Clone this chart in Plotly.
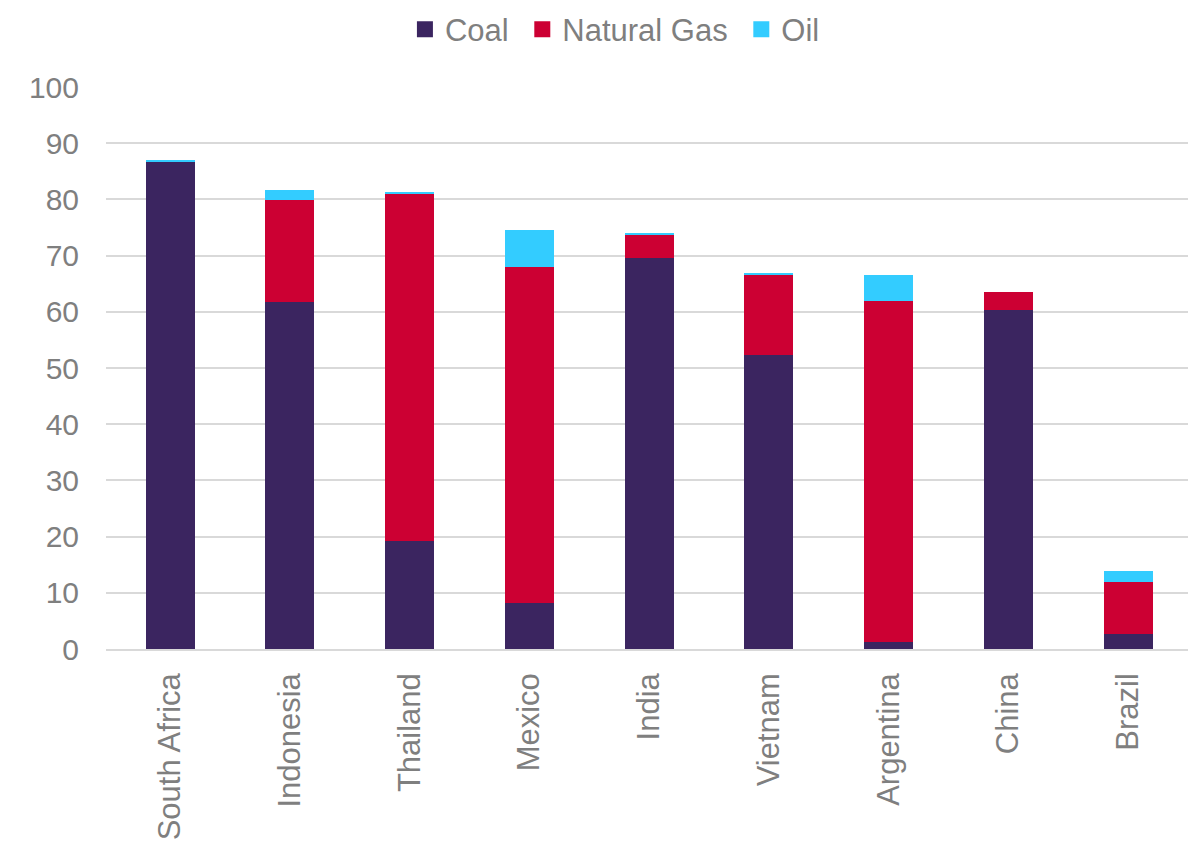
import plotly.graph_objects as go

countries = ["South Africa", "Indonesia", "Thailand", "Mexico", "India", "Vietnam", "Argentina", "China", "Brazil"]
coal = [86.6, 61.8, 19.3, 8.1, 69.5, 52.3, 1.2, 60.3, 2.6]
gas = [0.0, 18.1, 61.8, 59.9, 4.2, 14.4, 60.8, 3.2, 9.4]
oil = [0.5, 1.8, 0.2, 6.6, 0.3, 0.2, 4.5, 0.0, 1.9]
series_names = ["Coal", "Natural Gas", "Oil"]

colors = {"Coal": "#3B2560", "Natural Gas": "#CC0033", "Oil": "#33CCFF"}

fig = go.Figure()
for name, vals in zip(series_names, [coal, gas, oil]):
    fig.add_trace(go.Bar(x=countries, y=vals, name=name, marker_color=colors[name],
                         marker_line_width=0, width=0.41, showlegend=False))
for i, name in enumerate(series_names):
    label = name + ("\u00a0" if i < len(series_names) - 1 else "")
    fig.add_trace(go.Scatter(x=[countries[0]], y=[None], mode="markers", name=label,
                             marker=dict(symbol="square", size=16, color=colors[name]),
                             hoverinfo="skip"))

fig.update_layout(
    barmode="stack",
    width=1198, height=842,
    margin=dict(l=106, r=10, t=87, b=193),
    plot_bgcolor="white", paper_bgcolor="white",
    font=dict(family="Liberation Sans, Arial, sans-serif", color="#7f7f7f", size=30),
    legend=dict(orientation="h", x=0.338, xanchor="left", xref="container",
                y=0.997, yanchor="top", yref="container",
                font=dict(size=31, color="#7f7f7f"),
                itemwidth=30, traceorder="normal"),
)
fig.update_yaxes(range=[0, 100], dtick=10, showgrid=True, gridcolor="#d9d9d9", gridwidth=1.5,
                 zeroline=False, showline=False, ticks="", ticklabelstandoff=26,
                 automargin=False, tickfont=dict(size=30, color="#7f7f7f"))
fig.update_xaxes(showline=True, linecolor="#d9d9d9", linewidth=1.5, tickangle=-90,
                 automargin=False, tickfont=dict(size=31, color="#7f7f7f"), ticks="",
                 ticklabelstandoff=10)

fig.write_html("out.html")
